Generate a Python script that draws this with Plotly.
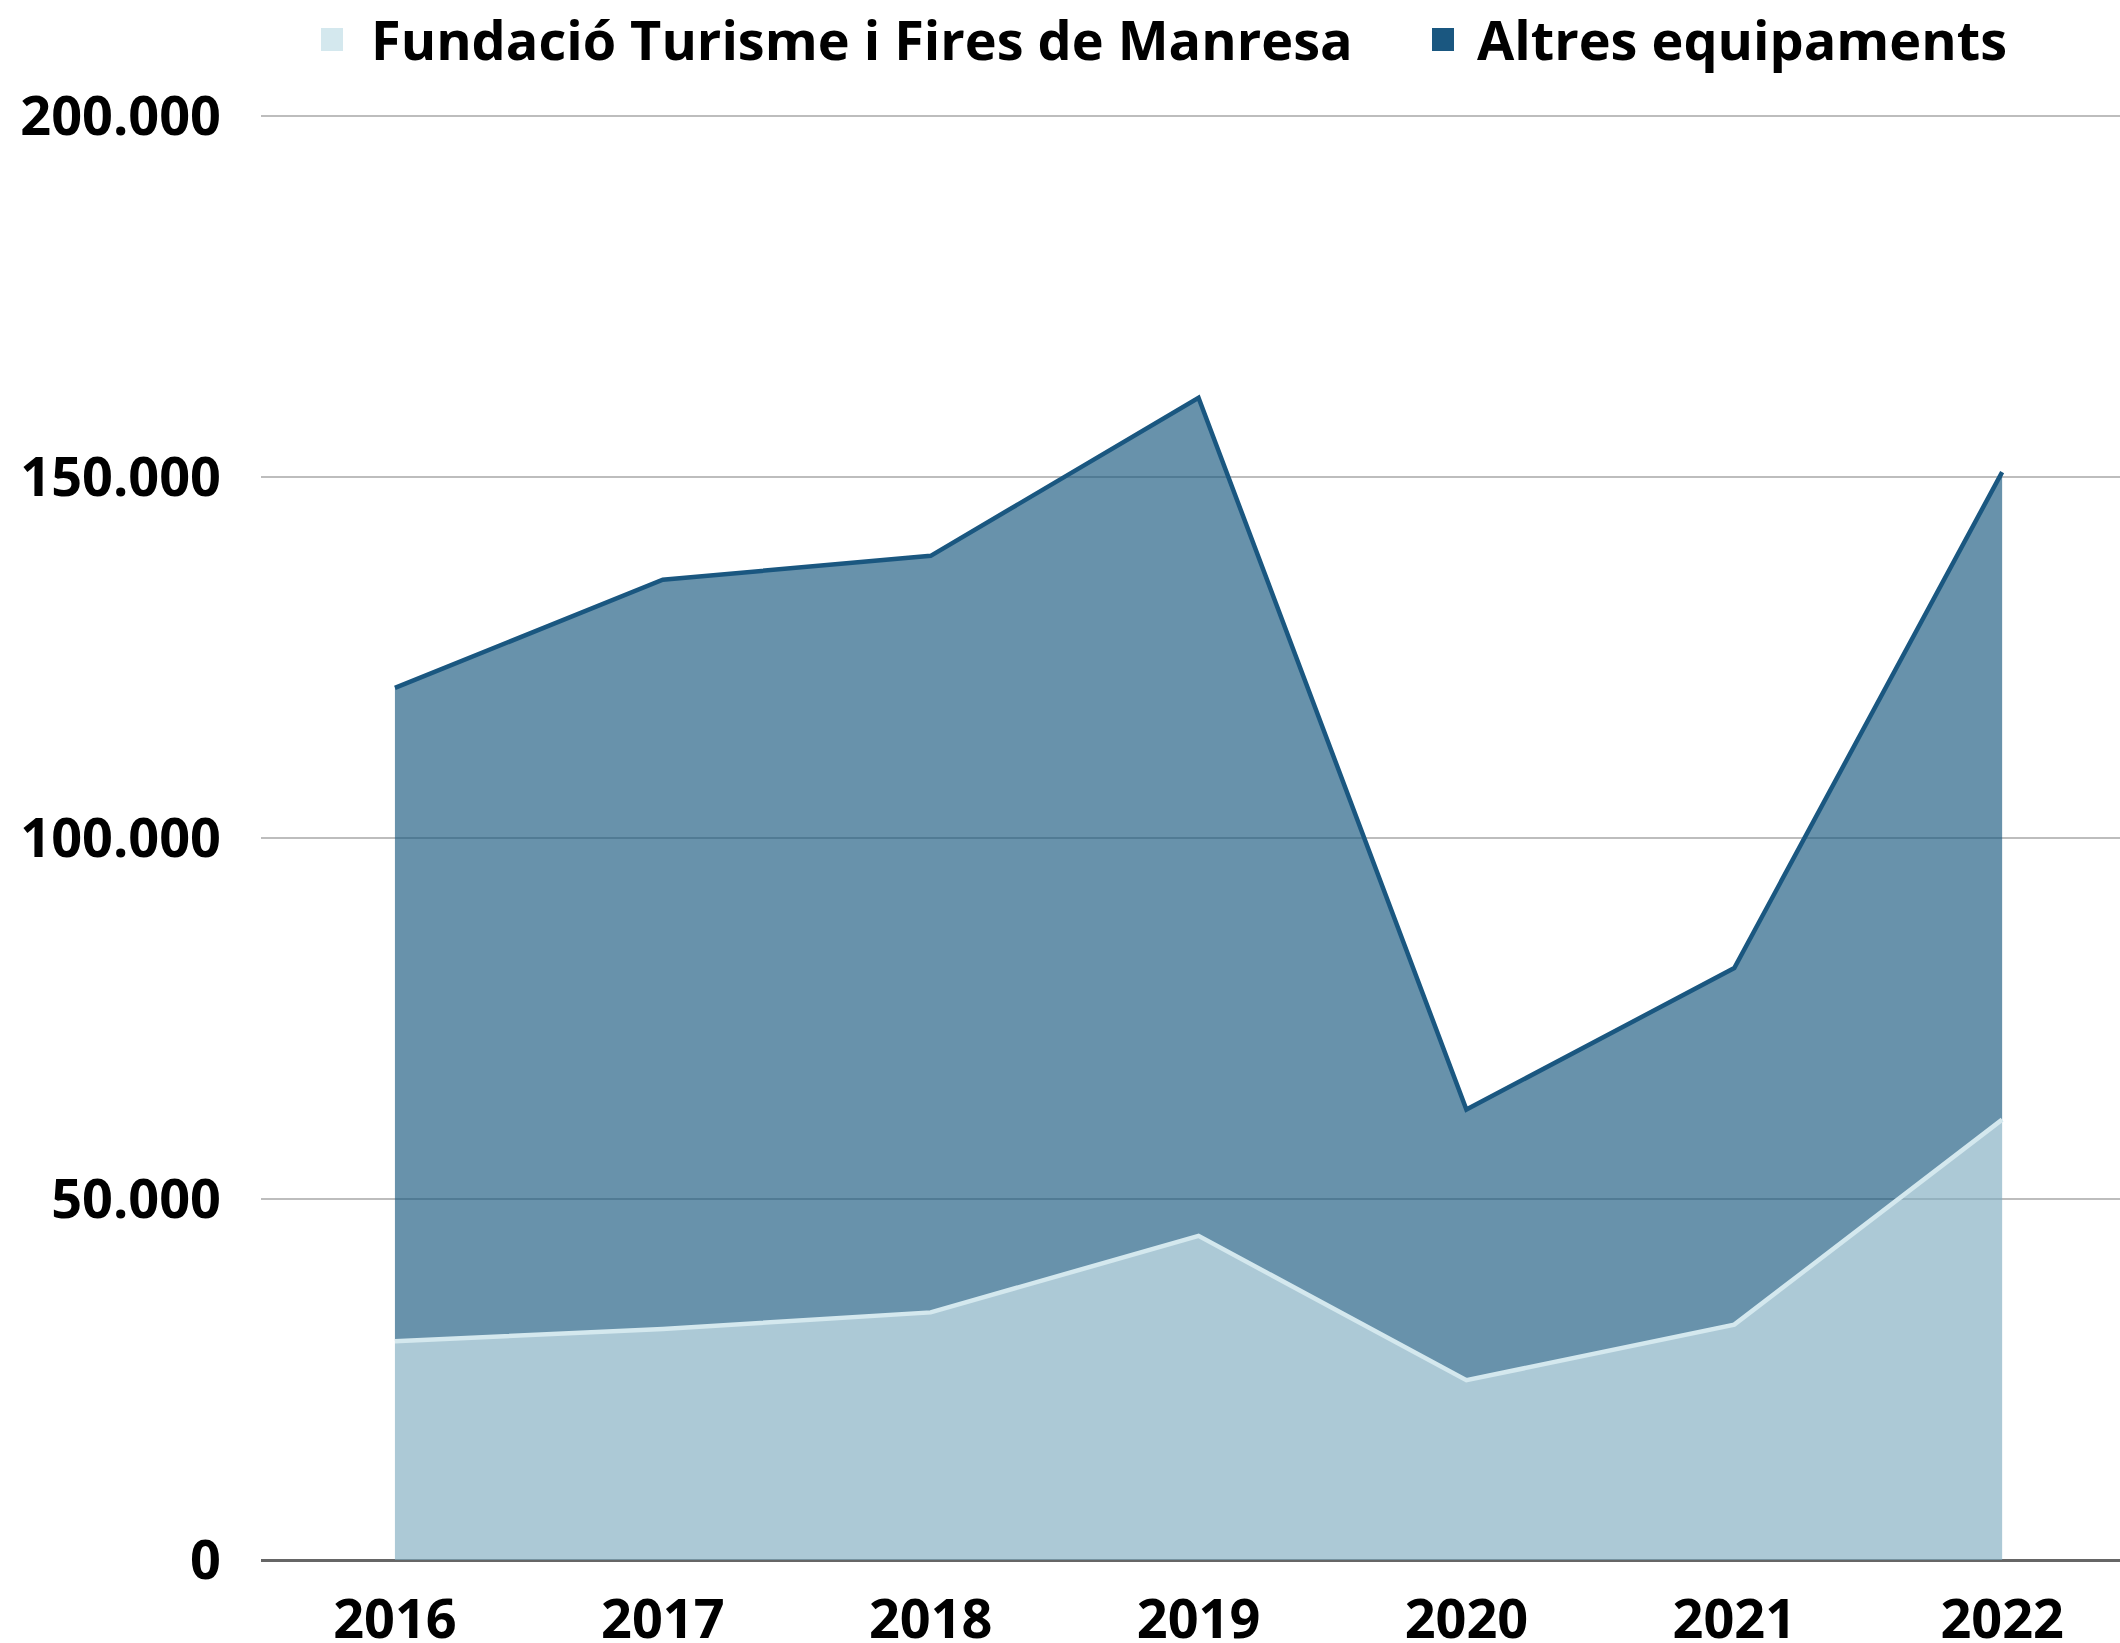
import plotly.graph_objects as go

years = [2016, 2017, 2018, 2019, 2020, 2021, 2022]
fundacio = [30300, 32000, 34300, 44900, 24900, 32600, 61000]
altres = [90500, 103800, 104800, 116100, 37500, 49400, 89700]
y_ticks = [0, 50000, 100000, 150000, 200000]
names = ["Fundació Turisme i Fires de Manresa", "Altres equipaments"]
light_line = "#d4e8ee"
dark_line = "#1a5780"

FONT = "Open Sans"
W, H = 2120, 1643
L, R, T, B = 261, 0, 109, 83
PW, PH = W - L - R, H - T - B


def px(x):
    return (x - L) / PW


def py(y):
    return (H - B - y) / PH


fig = go.Figure()
fig.add_trace(go.Scatter(
    x=years, y=fundacio, name=names[0], stackgroup="one", mode="lines",
    line=dict(color=light_line, width=4.5),
    fillcolor="rgba(128,172,192,0.65)", showlegend=False, hoverinfo="skip"))
fig.add_trace(go.Scatter(
    x=years, y=altres, name=names[1], stackgroup="one", mode="lines",
    line=dict(color=dark_line, width=4.5),
    fillcolor="rgba(26,90,128,0.66)", showlegend=False, hoverinfo="skip"))

# manual legend
shapes = []
annotations = []
for (x0, tx, name, col) in [(321, 369, names[0], light_line), (1432, 1475, names[1], dark_line)]:
    shapes.append(dict(type="rect", xref="paper", yref="paper",
                       x0=px(x0), x1=px(x0 + 22), y0=py(51), y1=py(28),
                       fillcolor=col, line=dict(width=0), layer="above"))
    annotations.append(dict(text=name, xref="paper", yref="paper", x=px(tx), y=py(39),
                            xanchor="left", yanchor="middle", showarrow=False,
                            font=dict(family=FONT, size=54, color="#000000", weight="bold")))

fig.update_layout(
    width=W, height=H,
    margin=dict(l=L, r=R, t=T, b=B, autoexpand=False),
    paper_bgcolor="white", plot_bgcolor="white",
    separators=",.",
    showlegend=False,
    shapes=shapes, annotations=annotations,
    font=dict(family=FONT, size=54, color="#000000", weight="bold"),
    xaxis=dict(range=[2015.5, 2022.44], tickvals=years, ticktext=[str(y) for y in years],
               showgrid=False, zeroline=False, showline=False, ticks="",
               ticklabelstandoff=23, automargin=False,
               tickfont=dict(family=FONT, size=54, color="#000000", weight="bold")),
    yaxis=dict(range=[0, 201000], tickvals=y_ticks, tickformat=",d",
               showgrid=True, gridcolor="#bdbdbd", gridwidth=2,
               zeroline=True, zerolinecolor="#666666", zerolinewidth=3,
               showline=False, ticks="", ticklabelstandoff=39, automargin=False,
               tickfont=dict(family=FONT, size=54, color="#000000", weight="bold")),
)

fig.write_html("out.html", config={"displayModeBar": False},
               post_script="document.body.style.margin='0';document.body.style.overflow='hidden';")
